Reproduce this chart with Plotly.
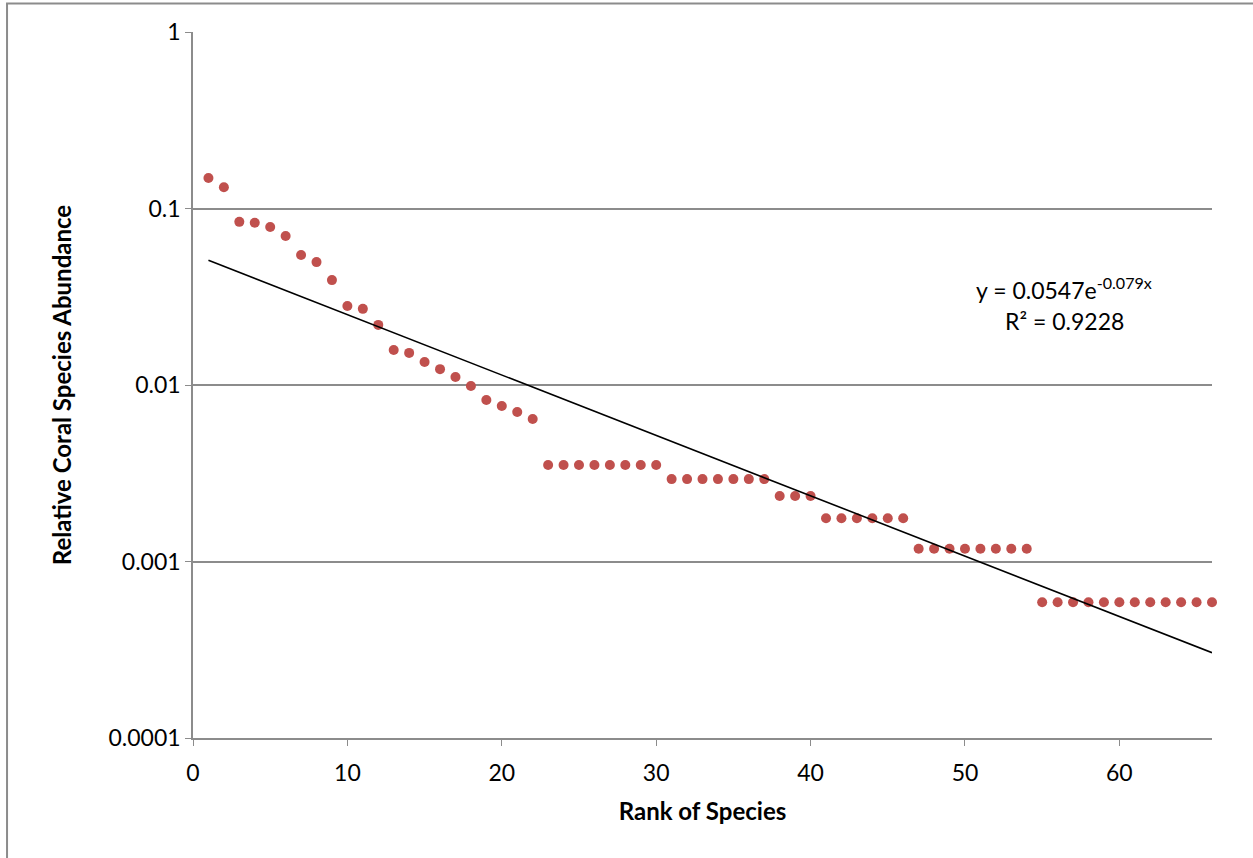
import numpy as np
import plotly.graph_objects as go

rank = list(range(1, 67))
abundance = [
    0.149, 0.132, 0.084, 0.083, 0.0785, 0.0699, 0.0545, 0.0497, 0.0393, 0.0280,
    0.0270, 0.0219, 0.0158, 0.0152, 0.0135, 0.0123, 0.0111, 0.00987, 0.00822, 0.0076,
    0.00703, 0.00642,
    0.00352, 0.00352, 0.00352, 0.00352, 0.00352, 0.00352, 0.00352, 0.00352,
    0.00293, 0.00293, 0.00293, 0.00293, 0.00293, 0.00293, 0.00293,
    0.00235, 0.00235, 0.00235,
    0.00176, 0.00176, 0.00176, 0.00176, 0.00176, 0.00176,
    0.00118, 0.00118, 0.00118, 0.00118, 0.00118, 0.00118, 0.00118, 0.00118,
    0.000588, 0.000588, 0.000588, 0.000588, 0.000588, 0.000588,
    0.000588, 0.000588, 0.000588, 0.000588, 0.000588, 0.000588,
]
x_ticks = [0, 10, 20, 30, 40, 50, 60]
y_ticks = [1, 0.1, 0.01, 0.001, 0.0001]
y_tick_labels = ["1", "0.1", "0.01", "0.001", "0.0001"]
eq_text = "y = 0.0547e<sup>-0.079x</sup>"
r2_text = "R² = 0.9228"

# exponential trendline fitted (least squares on ln y), as the spreadsheet does
xa = np.array(rank, dtype=float)
b, ln_a = np.polyfit(xa, np.log(abundance), 1)
trend_x = np.array([xa.min(), xa.max()])
trend_y = np.exp(ln_a) * np.exp(b * trend_x)

FONT = "Lato"
fig = go.Figure()
fig.add_trace(go.Scatter(
    x=rank, y=abundance, mode="markers",
    marker=dict(color="#C0504D", size=10, line=dict(width=0)),
    showlegend=False, cliponaxis=False,
))
fig.add_trace(go.Scatter(
    x=trend_x, y=trend_y, mode="lines",
    line=dict(color="black", width=1.6),
    showlegend=False,
))

grid = "#8c8c8c"
fig.update_xaxes(
    range=[0, 66], tickvals=x_ticks, ticks="outside", ticklen=6, tickcolor=grid,
    showline=True, linecolor=grid, linewidth=1.5, showgrid=False, zeroline=False,
    ticklabelstandoff=8,
    tickfont=dict(family=FONT, size=23, color="black"),
    title=dict(text="<b>Rank of Species</b>", font=dict(family=FONT, size=24, color="black"), standoff=18),
)
fig.update_yaxes(
    type="log", range=[-4, 0], tickvals=y_ticks, ticktext=y_tick_labels,
    ticks="outside", ticklen=6, tickcolor=grid,
    showline=True, linecolor=grid, linewidth=1.5,
    showgrid=True, gridcolor=grid, gridwidth=1.5, zeroline=False,
    tickfont=dict(family=FONT, size=23, color="black"),
    title=dict(text="<b>Relative Coral Species Abundance</b>", font=dict(family=FONT, size=24, color="black"), standoff=30),
)

fig.add_annotation(x=0.855, y=0.637, xref="paper", yref="paper", text=eq_text,
                   showarrow=False, font=dict(family=FONT, size=23, color="black"),
                   xanchor="center", yanchor="middle")
fig.add_annotation(x=0.855, y=0.59, xref="paper", yref="paper", text=r2_text,
                   showarrow=False, font=dict(family=FONT, size=23, color="black"),
                   xanchor="center", yanchor="middle")

# outer chart border
fig.add_shape(type="rect", xref="paper", yref="paper",
              x0=-0.1825, x1=1.045, y0=-0.18, y1=1.0404,
              line=dict(color="#8c8c8c", width=2), layer="below")

fig.update_layout(
    width=1253, height=858,
    margin=dict(l=193, r=41, t=32, b=120),
    paper_bgcolor="white", plot_bgcolor="white",
    font=dict(family=FONT),
)
fig.write_html("out.html")
